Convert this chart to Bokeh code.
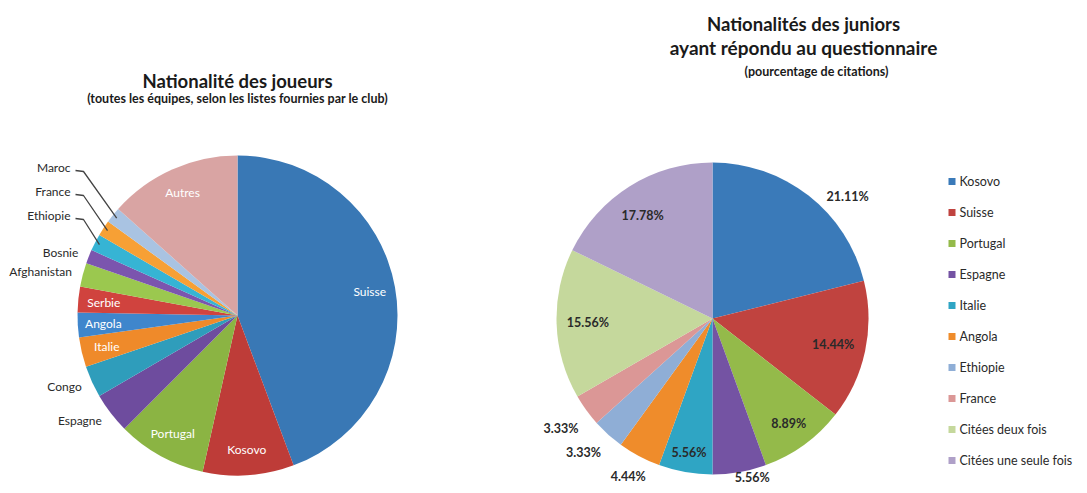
import numpy as np
from bokeh.plotting import figure
from bokeh.models import Range1d
from bokeh.core.properties import value
from bokeh.embed import file_html
from bokeh.resources import INLINE

# ---------------- data ----------------
left_title = "Nationalité des joueurs"
left_subtitle = "(toutes les équipes, selon les listes fournies par le club)"
left_names = ["Suisse", "Kosovo", "Portugal", "Espagne", "Congo", "Italie", "Angola",
              "Serbie", "Afghanistan", "Bosnie", "Ethiopie", "France", "Maroc", "Autres"]
left_values = [44.3, 9.2, 9.0, 4.1, 3.2, 3.0, 2.5, 2.6, 2.4, 1.4, 1.7, 1.6, 1.6, 13.4]
left_colors = ["#3978B5", "#BE3C38", "#8BB443", "#6E4C9E", "#2F9DBB", "#EF8A2A", "#3F86CC",
               "#D0433E", "#9BC84F", "#7B55AE", "#36B4D4", "#F7A035", "#A9C3E2", "#D9A4A3"]

right_title_1 = "Nationalités des juniors"
right_title_2 = "ayant répondu au questionnaire"
right_subtitle = "(pourcentage de citations)"
right_names = ["Kosovo", "Suisse", "Portugal", "Espagne", "Italie", "Angola", "Ethiopie",
               "France", "Citées deux fois", "Citées une seule fois"]
right_values = [21.11, 14.44, 8.89, 5.56, 5.56, 4.44, 3.33, 3.33, 15.56, 17.78]
right_colors = ["#3A7AB9", "#C0433F", "#94BA4A", "#7453A3", "#2FA5C4", "#EF8C2B", "#8FAED6",
                "#DB9796", "#C5D89C", "#AFA0C8"]

# ---------------- layout ----------------
W, H = 1087, 493
FONT = value("Lato")


def sy(y):
    return H - y


p = figure(width=W, height=H, x_range=Range1d(0, W), y_range=Range1d(0, H),
           output_backend="svg", toolbar_location=None,
           x_axis_location=None, y_axis_location=None, min_border=0)
p.grid.visible = False
p.outline_line_color = None
p.background_fill_color = "white"


def angles(vals):
    v = np.array(vals, dtype=float)
    frac = v / v.sum()
    cum = np.concatenate([[0.0], np.cumsum(frac)])
    start = np.pi / 2 - 2 * np.pi * cum[:-1]
    end = np.pi / 2 - 2 * np.pi * cum[1:]
    mid = np.pi / 2 - 2 * np.pi * (cum[:-1] + frac / 2)
    return start, end, mid


# ---------------- left pie ----------------
LCX, LCY, LR = 237, sy(315), 160
ls, le, lm = angles(left_values)
p.wedge(x=LCX, y=LCY, radius=LR, start_angle=ls, end_angle=le, direction="clock",
        fill_color=left_colors, line_color=None)

left_mode = ["in", "in", "in", "out", "out", "in", "in", "in", "out", "out",
             "lead", "lead", "lead", "in"]
in_x, in_y, in_t = [], [], []
out_x, out_y, out_t = [], [], []
lead_label_y = {"Ethiopie": 215, "France": 191, "Maroc": 167}
lead_x, lead_y, lead_t = [], [], []
lines_x, lines_y = [], []
for name, mode, a in zip(left_names, left_mode, lm):
    if mode == "in":
        r = 0.84 * LR
        in_x.append(LCX + r * np.cos(a)); in_y.append(LCY + r * np.sin(a)); in_t.append(name)
    elif mode == "out":
        r = 1.07 * LR
        out_x.append(LCX + r * np.cos(a)); out_y.append(LCY + r * np.sin(a)); out_t.append(name)
    else:
        ly = sy(lead_label_y[name])
        tx = 70
        lead_x.append(tx); lead_y.append(ly); lead_t.append(name)
        ex, ey = LCX + 0.97 * LR * np.cos(a), LCY + 0.97 * LR * np.sin(a)
        lines_x.append([tx + 5, tx + 13, ex])
        lines_y.append([ly - 3, ly - 4, ey])

p.text(x=in_x, y=in_y, text=in_t, text_align="center", text_baseline="middle",
       text_font=FONT, text_font_size="12px", text_color="white")
p.text(x=out_x, y=out_y, text=out_t, text_align="right", text_baseline="middle",
       text_font=FONT, text_font_size="12px", text_color="#2a2a2a")
p.text(x=lead_x, y=lead_y, text=lead_t, text_align="right", text_baseline="middle",
       text_font=FONT, text_font_size="12px", text_color="#2a2a2a")
p.multi_line(xs=lines_x, ys=lines_y, line_color="#444444", line_width=1.3)

p.text(x=[237], y=[sy(80)], text=[left_title], text_align="center", text_baseline="middle",
       text_font=FONT, text_font_size="18.5px", text_font_style="bold", text_color="#1a1a1a")
p.text(x=[237], y=[sy(98)], text=[left_subtitle], text_align="center", text_baseline="middle",
       text_font=FONT, text_font_size="12.5px", text_font_style="bold", text_color="#1a1a1a")

# ---------------- right pie ----------------
RCX, RCY, RR = 712, sy(318), 156
rs, re_, rm = angles(right_values)
p.wedge(x=RCX, y=RCY, radius=RR, start_angle=rs, end_angle=re_, direction="clock",
        fill_color=right_colors, line_color=None)

r_fac = [1.165, 0.79, 0.83, 1.05, 0.87, 1.15, 1.19, 1.2, 0.8, 0.8]
r_shift = [-10, 0, 0, 4, 0, 0, -2, 0, 0, 2]  # degrees (counter-clockwise positive)
rl_x, rl_y, rl_t = [], [], []
for v, a, f, s in zip(right_values, rm, r_fac, r_shift):
    aa = a + np.radians(s)
    rl_x.append(RCX + f * RR * np.cos(aa))
    rl_y.append(RCY + f * RR * np.sin(aa))
    rl_t.append(f"{v:.2f}%")
p.text(x=rl_x, y=rl_y, text=rl_t, text_align="center", text_baseline="middle",
       text_font=FONT, text_font_size="12.5px", text_font_style="bold", text_color="#2a2a2a")

p.text(x=[803], y=[sy(23)], text=[right_title_1], text_align="center", text_baseline="middle",
       text_font=FONT, text_font_size="18.5px", text_font_style="bold", text_color="#1a1a1a")
p.text(x=[803], y=[sy(47)], text=[right_title_2], text_align="center", text_baseline="middle",
       text_font=FONT, text_font_size="19px", text_font_style="bold", text_color="#1a1a1a")
p.text(x=[816], y=[sy(71)], text=[right_subtitle], text_align="center", text_baseline="middle",
       text_font=FONT, text_font_size="12.5px", text_font_style="bold", text_color="#1a1a1a")

# ---------------- legend ----------------
leg_y = [sy(181 + 31 * i) for i in range(len(right_names))]
p.scatter(x=[951.5] * len(right_names), y=leg_y, marker="square", size=7,
          fill_color=right_colors, line_color=None)
p.text(x=[959] * len(right_names), y=leg_y, text=right_names, text_align="left",
       text_baseline="middle", text_font=FONT, text_font_size="12.5px", text_color="#2a2a2a")

open("out.html", "w").write(file_html(p, INLINE))
